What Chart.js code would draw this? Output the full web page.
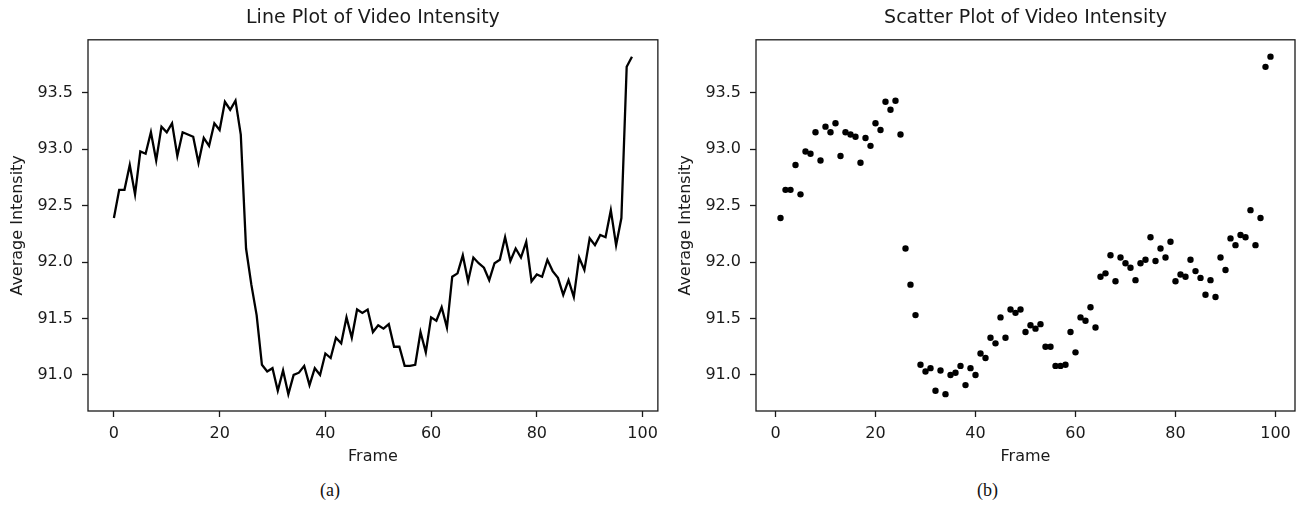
<!DOCTYPE html>
<html lang="en">
<head>
    <meta charset="UTF-8">
    <title>Video Intensity</title>
    <script src="https://cdn.jsdelivr.net/npm/chart.js"></script>
    <style>
        body { margin: 0; background: #fff; width: 1300px; height: 508px; position: relative; overflow: hidden; }
        canvas { position: absolute; top: 0; }
        #lineChart { left: 0; }
        #scatterChart { left: 665px; }
        .caption { position: absolute; top: 480px; font-family: "Liberation Serif", serif; font-size: 18px; color: #111; text-align: center; }
    </style>
</head>
<body>
    <canvas id="lineChart" width="665" height="470"></canvas>
    <canvas id="scatterChart" width="635" height="470"></canvas>
    <div class="caption" style="left:0; width:660px;">(a)</div>
    <div class="caption" style="left:675px; width:625px;">(b)</div>

    <script>
        // average intensity per frame
        const avgIntensity = [
            92.39, 92.64, 92.64, 92.86, 92.60, 92.98, 92.96, 93.15, 92.90, 93.20,
            93.15, 93.23, 92.94, 93.15, 93.13, 93.11, 92.88, 93.10, 93.03, 93.23,
            93.17, 93.42, 93.35, 93.43, 93.13, 92.12, 91.80, 91.53, 91.09, 91.03,
            91.06, 90.86, 91.04, 90.83, 91.00, 91.02, 91.08, 90.91, 91.06, 91.00,
            91.19, 91.15, 91.33, 91.28, 91.51, 91.33, 91.58, 91.55, 91.58, 91.38,
            91.44, 91.41, 91.45, 91.25, 91.25, 91.08, 91.08, 91.09, 91.38, 91.20,
            91.51, 91.48, 91.60, 91.42, 91.87, 91.90, 92.06, 91.83, 92.04, 91.99,
            91.95, 91.84, 91.99, 92.02, 92.22, 92.01, 92.12, 92.04, 92.18, 91.83,
            91.89, 91.87, 92.02, 91.92, 91.86, 91.71, 91.84, 91.69, 92.04, 91.93,
            92.21, 92.15, 92.24, 92.22, 92.46, 92.15, 92.39, 93.73, 93.82
        ];
        // first frame number used by each plot
        const lineFirstFrame = 0;
        const scatterFirstFrame = 1;

        const xTicks = [0, 20, 40, 60, 80, 100];
        const yTicks = [91.0, 91.5, 92.0, 92.5, 93.0, 93.5];

        const textColor = '#1a1a1a';
        const tickFont = { family: 'DejaVu Sans', size: 16 };

        // matplotlib-style 5% margins around the data
        function padRange(lo, hi) {
            const m = (hi - lo) * 0.05;
            return { min: lo - m, max: hi + m };
        }

        function toPoints(first) {
            return avgIntensity.map((v, i) => ({ x: first + i, y: v }));
        }

        // full box around the plot area
        const frameBox = {
            id: 'frameBox',
            afterDraw(chart) {
                const a = chart.chartArea;
                const ctx = chart.ctx;
                ctx.save();
                ctx.strokeStyle = textColor;
                ctx.lineWidth = 1.3;
                ctx.strokeRect(a.left, a.top, a.right - a.left, a.bottom - a.top);
                ctx.restore();
            }
        };

        function makeOptions(title, firstFrame, yAxisWidth, rightPad, yTitlePad) {
            const xr = padRange(firstFrame, firstFrame + avgIntensity.length - 1);
            const yr = padRange(Math.min(...avgIntensity), Math.max(...avgIntensity));
            const tickGrid = {
                drawOnChartArea: false,
                drawTicks: true,
                tickLength: 6,
                tickWidth: 1.3,
                tickColor: textColor
            };
            return {
                responsive: false,
                animation: false,
                layout: { padding: { left: 0, right: rightPad, top: 0, bottom: 0 } },
                plugins: {
                    legend: { display: false },
                    tooltip: { enabled: false },
                    title: {
                        display: true,
                        text: title,
                        fullSize: false,
                        color: textColor,
                        font: { family: 'DejaVu Sans', size: 19, weight: 'normal' },
                        padding: { top: 7, bottom: 10 }
                    }
                },
                scales: {
                    x: {
                        type: 'linear',
                        min: xr.min,
                        max: xr.max,
                        afterBuildTicks: s => { s.ticks = xTicks.map(v => ({ value: v })); },
                        afterFit: s => { s.height = 59; },
                        ticks: { color: textColor, font: tickFont, padding: 7, maxRotation: 0 },
                        grid: tickGrid,
                        border: { display: false },
                        title: { display: true, text: 'Frame', color: textColor, font: tickFont, padding: { top: 0, bottom: 4 } }
                    },
                    y: {
                        min: yr.min,
                        max: yr.max,
                        afterBuildTicks: s => { s.ticks = yTicks.map(v => ({ value: v })); },
                        afterFit: s => { s.width = yAxisWidth; },
                        ticks: { color: textColor, font: tickFont, padding: 9, callback: v => v.toFixed(1) },
                        grid: tickGrid,
                        border: { display: false },
                        title: { display: true, text: 'Average Intensity', color: textColor, font: tickFont, padding: { top: yTitlePad, bottom: 0 } }
                    }
                }
            };
        }

        new Chart(document.getElementById('lineChart'), {
            type: 'line',
            data: {
                datasets: [{
                    data: toPoints(lineFirstFrame),
                    borderColor: '#000',
                    borderWidth: 2.3,
                    pointRadius: 0,
                    tension: 0,
                    fill: false
                }]
            },
            options: makeOptions('Line Plot of Video Intensity', lineFirstFrame, 88, 7, 8),
            plugins: [frameBox]
        });

        new Chart(document.getElementById('scatterChart'), {
            type: 'scatter',
            data: {
                datasets: [{
                    data: toPoints(scatterFirstFrame),
                    backgroundColor: '#000',
                    borderWidth: 0,
                    pointRadius: 3.2
                }]
            },
            options: makeOptions('Scatter Plot of Video Intensity', scatterFirstFrame, 91, 5, 11),
            plugins: [frameBox]
        });
    </script>
</body>
</html>
